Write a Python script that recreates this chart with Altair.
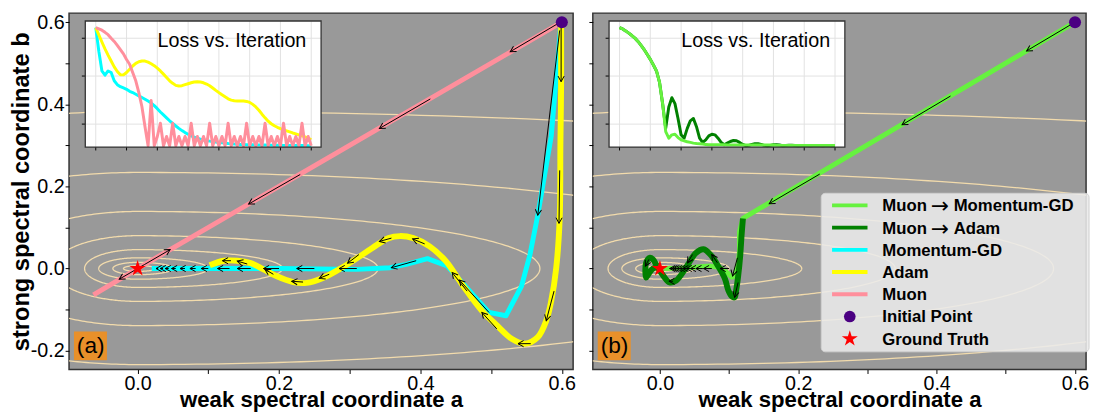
import math
import numpy as np
import pandas as pd
import altair as alt

FONT = "Liberation Sans"

# ---------------- figure geometry ----------------
X_DOMAIN = [-0.097, 0.616]
Y_DOMAIN = [-0.246, 0.622]
W_A, W_B, H = 512, 501, 362

# ---------------- colours ----------------
BG = "#999999"
C_CONTOUR = "#f2dbac"
C_LG = "#66f23f"
C_DG = "#008000"
C_CY = "#00ffff"
C_YE = "#ffff00"
C_PK = "#ff8f9c"
C_INIT = "#4b0082"
C_GT = "#ff0000"
C_TAG = "#e8902a"

# ---------------- contour levels (ellipse half-axes) ----
CONTOUR_A_RIGHT = [0.026, 0.05, 0.1, 0.205, 0.34, 0.569, 0.953, 1.78]
CONTOUR_A_LEFT = [0.02, 0.035, 0.055, 0.075, 0.12, 0.2, 0.35, 0.6]
CONTOUR_B = [0.007, 0.015, 0.026, 0.046, 0.08, 0.139, 0.234, 0.383]

# ---------------- panel (a) trajectories ----------------
MGD_A = [0.599, 0.593, 0.585, 0.566, 0.555, 0.543, 0.521, 0.497, 0.438, 0.41, 0.38, 0.357, 0.31, 0.2, 0.1, 0.02]
MGD_B = [0.602, 0.481, 0.322, 0.13, 0.034, -0.043, -0.115, -0.107, 0.006, 0.024, 0.01, 0.002, -0.002, 0.0, 0.0, 0.0]
ADAM_A = [0.599, 0.599, 0.598, 0.597, 0.592, 0.585, 0.578, 0.566, 0.548, 0.529, 0.506, 0.487, 0.459, 0.436, 0.413,
          0.39, 0.371, 0.355, 0.332, 0.304, 0.285, 0.262, 0.239, 0.22, 0.197, 0.178, 0.16, 0.141, 0.122, 0.102]
ADAM_B = [0.602, 0.45, 0.3, 0.122, 0.0, -0.079, -0.127, -0.167, -0.183, -0.171, -0.135, -0.103, -0.039, 0.018, 0.054,
          0.074, 0.079, 0.074, 0.05, 0.018, -0.002, -0.023, -0.035, -0.033, -0.019, -0.002, 0.013, 0.019, 0.019, 0.008]
MUON_A = [0.6, 0.0, -0.0625]
MUON_B = [0.6, 0.0, -0.064]

ARROWS_A = [
    (0.594, 0.596, 0.527, 0.528), (0.414, 0.413, 0.342, 0.341), (0.23, 0.229, 0.157, 0.157),
    (0.01, 0.01, 0.046, 0.046), (0.01, 0.01, -0.026, -0.026),
    (0.597, 0.58, 0.566, 0.13), (0.497, -0.107, 0.455, -0.028), (0.394, 0.019, 0.359, 0.002),
    (0.31, 0.0, 0.285, 0.0), (0.25, 0.0, 0.225, 0.0), (0.2, 0.0, 0.178, 0.0), (0.16, 0.0, 0.141, 0.0),
    (0.13, 0.0, 0.113, 0.0), (0.1, 0.0, 0.09, 0.0), (0.082, 0.0, 0.074, 0.0), (0.067, 0.0, 0.06, 0.0),
    (0.054, 0.0, 0.048, 0.0), (0.044, 0.0, 0.039, 0.0), (0.036, 0.0, 0.032, 0.0), (0.029, 0.0, 0.026, 0.0),
    (0.599, 0.596, 0.599, 0.455), (0.597, 0.239, 0.596, 0.11), (0.589, -0.055, 0.578, -0.127),
    (0.556, -0.183, 0.538, -0.183), (0.508, -0.147, 0.487, -0.107), (0.466, -0.055, 0.445, -0.01),
    (0.406, 0.06, 0.389, 0.072), (0.359, 0.074, 0.342, 0.066), (0.313, 0.034, 0.297, 0.013),
    (0.271, -0.014, 0.257, -0.024), (0.234, -0.033, 0.218, -0.031), (0.192, -0.014, 0.18, -0.002),
    (0.155, 0.011, 0.141, 0.018), (0.132, 0.019, 0.12, 0.019),
]

# ---------------- panel (b) trajectories ----------------
LG_A = [0.6, 0.12, 0.115, 0.115, 0.113, 0.108, 0.104, 0.097, 0.087, 0.073, 0.05, 0.028, 0.005]
LG_B = [0.6, 0.122, 0.09, 0.042, 0.01, -0.018, -0.021, -0.01, 0.002, 0.006, 0.003, 0.001, 0.0]
DG_A = [0.12, 0.118, 0.116, 0.113, 0.11, 0.108, 0.104, 0.099, 0.094, 0.084, 0.075, 0.063, 0.052, 0.042, 0.033,
        0.023, 0.014, 0.005, -0.003, -0.01, -0.015, -0.02, -0.021, -0.02, -0.016, -0.01, -0.004, 0.0]
DG_B = [0.122, 0.08, 0.03, -0.02, -0.055, -0.07, -0.068, -0.054, -0.025, 0.006, 0.03, 0.047, 0.038, 0.014, -0.01,
        -0.03, -0.034, -0.018, 0.002, 0.022, 0.026, 0.014, -0.01, -0.022, -0.012, 0.0, 0.003, 0.0]

ARROWS_B = [
    (0.595, 0.595, 0.53, 0.53), (0.42, 0.42, 0.35, 0.35), (0.231, 0.23, 0.158, 0.158),
    (0.112, 0.026, 0.105, -0.018), (0.113, -0.034, 0.108, -0.07),
    (0.083, 0.014, 0.075, 0.034), (0.047, 0.034, 0.04, 0.014), (0.019, -0.031, 0.013, -0.031),
    (-0.016, 0.022, -0.021, 0.006),
    (0.1, 0.0, 0.087, 0.0), (0.075, 0.0, 0.063, 0.0), (0.062, 0.0, 0.052, 0.0), (0.051, 0.0, 0.044, 0.0),
    (0.044, 0.0, 0.038, 0.0), (0.038, 0.0, 0.033, 0.0), (0.033, 0.0, 0.028, 0.0), (0.028, 0.0, 0.024, 0.0),
    (0.024, 0.0, 0.02, 0.0), (0.02, 0.0, 0.017, 0.0), (0.017, 0.0, 0.014, 0.0),
]

INIT_POINT = (0.6, 0.6)
GROUND_TRUTH = (0.0, 0.0)

# ---------------- inset loss curves ----------------
INSET_TITLE = "Loss vs. Iteration"
ITER = list(range(71))
LOSS_MUON = [1.0, 0.99, 0.978, 0.96, 0.94, 0.91, 0.883, 0.85, 0.814, 0.778, 0.73, 0.69, 0.62, 0.55, 0.45, 0.33, 0.16, 0.0,
             0.383, 0.0, 0.078, 0.19, 0.0, 0.078, 0.0, 0.19, 0.0, 0.078, 0.0, 0.078, 0.0, 0.19, 0.0, 0.078, 0.0, 0.078,
             0.0, 0.19, 0.0, 0.078, 0.0, 0.078, 0.0, 0.19, 0.0, 0.078, 0.0, 0.078, 0.0, 0.19, 0.0, 0.078, 0.0, 0.078,
             0.0, 0.19, 0.0, 0.078, 0.0, 0.078, 0.0, 0.19, 0.0, 0.078, 0.0, 0.078, 0.0, 0.19, 0.0, 0.078, 0.0]
LOSS_MGD = [1.0, 0.8, 0.633, 0.597, 0.633, 0.62, 0.55, 0.517, 0.5, 0.489, 0.478, 0.461, 0.45, 0.436, 0.422, 0.408,
            0.394, 0.378, 0.361, 0.339, 0.314, 0.286, 0.261, 0.236, 0.211, 0.189, 0.167, 0.147, 0.128, 0.111, 0.097,
            0.083, 0.072, 0.064, 0.056, 0.05, 0.044, 0.039, 0.036, 0.031, 0.028, 0.025, 0.022, 0.019, 0.017, 0.014,
            0.012, 0.011, 0.01, 0.009, 0.008, 0.008, 0.007, 0.007, 0.006, 0.006, 0.005, 0.005, 0.004, 0.004, 0.004,
            0.003, 0.003, 0.003, 0.003, 0.002, 0.002, 0.002, 0.002, 0.001, 0.0]
LOSS_ADAM = [1.0, 0.939, 0.878, 0.82, 0.767, 0.717, 0.667, 0.628, 0.6, 0.6, 0.62, 0.647, 0.675, 0.697, 0.711, 0.717,
             0.717, 0.708, 0.694, 0.678, 0.656, 0.633, 0.606, 0.578, 0.55, 0.528, 0.511, 0.506, 0.508, 0.517, 0.525,
             0.533, 0.539, 0.542, 0.539, 0.533, 0.522, 0.508, 0.489, 0.469, 0.45, 0.431, 0.414, 0.397, 0.386, 0.381,
             0.378, 0.378, 0.378, 0.375, 0.367, 0.35, 0.328, 0.3, 0.267, 0.236, 0.208, 0.186, 0.169, 0.156, 0.144,
             0.133, 0.125, 0.117, 0.108, 0.1, 0.092, 0.083, 0.075, 0.064, 0.05]
LOSS_LG = [1.0, 0.989, 0.972, 0.953, 0.933, 0.911, 0.883, 0.85, 0.814, 0.772, 0.731, 0.683, 0.633, 0.536, 0.356, 0.119,
           0.064, 0.092, 0.097, 0.069, 0.05, 0.042, 0.033, 0.028, 0.022, 0.019, 0.017, 0.014, 0.011,
           0.008, 0.008, 0.008, 0.008, 0.008, 0.008,
           0.006, 0.006, 0.006, 0.006, 0.006, 0.006, 0.006, 0.006, 0.006, 0.006, 0.006, 0.006, 0.006, 0.006, 0.006, 0.006,
           0.003, 0.003, 0.003, 0.003, 0.003, 0.003, 0.003, 0.003, 0.003, 0.003, 0.003, 0.003, 0.003, 0.003, 0.003,
           0.003, 0.003, 0.003, 0.003, 0.003]
LOSS_DG = [1.0, 0.989, 0.972, 0.953, 0.933, 0.911, 0.883, 0.85, 0.814, 0.772, 0.731, 0.683, 0.633, 0.536, 0.356,
           0.147, 0.328, 0.406, 0.356, 0.231, 0.092, 0.064, 0.147, 0.211, 0.231, 0.161, 0.064, 0.028, 0.05, 0.083,
           0.097, 0.092, 0.064, 0.028, 0.008, 0.022, 0.036, 0.044, 0.042, 0.028, 0.011, 0.0, 0.003, 0.011, 0.017,
           0.017, 0.011, 0.003, 0.0, 0.003, 0.008, 0.008, 0.006, 0.0,
           0.002, 0.004, 0.004, 0.002, 0.0, 0.002, 0.003, 0.002, 0.0, 0.001, 0.002, 0.001, 0.0, 0.001, 0.001, 0.0, 0.0]

# inset frame: pixel box inside each plot and its data limits
INSET_PX_X = [16.5, 256]
INSET_PX_Y = [136, 8]
INSET_X = [-3.4, 73.2]
INSET_Y = [-0.011, 1.056]
ITER_GRID = [0, 10, 20, 30, 40, 50, 60, 70]
LOSS_GRID = [0.183, 0.59, 0.91]

# ---------------- legend ----------------
LEGEND_LABELS = ["Muon \u2192 Momentum-GD", "Muon \u2192 Adam", "Momentum-GD", "Adam", "Muon",
                 "Initial Point", "Ground Truth"]
LEGEND_COLORS = [C_LG, C_DG, C_CY, C_YE, C_PK, C_INIT, C_GT]
LEG_BOX = (232, 504, 183, 344)     # pixel box inside panel (b)
LEG_ROW0, LEG_DY = 195.3, 22.57
LEG_SYM_X0, LEG_SYM_X1, LEG_TEXT_X = 243, 279, 294
LEG_ARROW_X, LEG_AFTER_X = 352.5, 366.5

STAR = ("M0,-1L0.223,-0.307L0.951,-0.309L0.361,0.117L0.588,0.809L0,0.38L-0.588,0.809"
        "L-0.361,0.117L-0.951,-0.309L-0.223,-0.307Z")
ARROW = "M-1,-0.55L0,0L-1,0.55"

TICK_VALUES_X = [round(0.1 * i, 1) for i in range(7)]
TICK_VALUES_Y = [round(-0.2 + 0.1 * i, 1) for i in range(9)]
LABEL_EXPR = ("abs(round(datum.value*10)) % 2 == 0 ? "
              "replace(format(datum.value, '.1f'), '\u2212', '-') : ''")

XS = alt.Scale(domain=X_DOMAIN, nice=False, zero=False)
YS = alt.Scale(domain=Y_DOMAIN, nice=False, zero=False)


def text_layer(s, x, y, **kw):
    df = pd.DataFrame({"t": [s]})
    return alt.Chart(df).mark_text(**kw).encode(x=alt.value(x), y=alt.value(y), text="t:N")


def legend_layers():
    out = []
    one = pd.DataFrame({"k": [0]})
    x0, x1, y0, y1 = LEG_BOX
    out.append(alt.Chart(one).mark_rect(fill="#ebebeb", fillOpacity=0.88, stroke="#cfcfcf", strokeWidth=1,
                                         cornerRadius=4).encode(
        x=alt.value(x0), x2=alt.value(x1), y=alt.value(y0), y2=alt.value(y1)))
    xc = (LEG_SYM_X0 + LEG_SYM_X1) / 2
    bold = dict(font=FONT, fontSize=17, fontWeight="bold", color="black", align="left", baseline="middle")
    for k, (lab, col) in enumerate(zip(LEGEND_LABELS, LEGEND_COLORS)):
        yk = LEG_ROW0 + k * LEG_DY
        if k < 5:
            out.append(alt.Chart(one).mark_rule(color=col, strokeWidth=4).encode(
                x=alt.value(LEG_SYM_X0), x2=alt.value(LEG_SYM_X1), y=alt.value(yk)))
        elif k == 5:
            out.append(alt.Chart(one).mark_point(shape="circle", filled=True, color=col, size=140,
                                                 opacity=1).encode(x=alt.value(xc), y=alt.value(yk)))
        else:
            out.append(alt.Chart(one).mark_point(shape=STAR, filled=True, color=col, size=290,
                                                 opacity=1).encode(x=alt.value(xc), y=alt.value(yk)))
        if "\u2192" in lab:
            left, right = [p.strip() for p in lab.split("\u2192")]
            out.append(text_layer(left, LEG_TEXT_X, yk + 1, **bold))
            out.append(text_layer("\u2192", LEG_ARROW_X, yk + 1, font="DejaVu Sans", fontSize=22,
                                  color="black", align="center", baseline="middle"))
            out.append(text_layer(right, LEG_AFTER_X, yk + 1, **bold))
        else:
            out.append(text_layer(lab, LEG_TEXT_X, yk + 1, **bold))
    return out


def build_panel(tag, width, paths, arrows, insets, show_y_labels, with_legend):
    x_axis = alt.Axis(values=TICK_VALUES_X, labelExpr=LABEL_EXPR, title="weak spectral coordinate a",
                      labelPadding=0, titlePadding=-4, titleFontSize=22.5)
    if show_y_labels:
        y_axis = alt.Axis(values=TICK_VALUES_Y, labelExpr=LABEL_EXPR, title="strong spectral coordinate b",
                          titleFontSize=24, titlePadding=-3)
    else:
        y_axis = alt.Axis(values=TICK_VALUES_Y, labels=False, title=None)

    def X(f):
        return alt.X(f, type="quantitative", scale=XS, axis=x_axis)

    def Y(f):
        return alt.Y(f, type="quantitative", scale=YS, axis=y_axis)

    # contour ellipses
    t = np.linspace(0, 2 * np.pi, 361)
    rows = []
    for k, (ar, al, bb) in enumerate(zip(CONTOUR_A_RIGHT, CONTOUR_A_LEFT, CONTOUR_B)):
        c, s = np.cos(t), np.sin(t)
        xs = np.where(c >= 0, ar, al) * c
        ys = bb * s
        for i in range(len(t)):
            rows.append({"level": k, "i": i, "a": float(xs[i]), "b": float(ys[i])})
    cdf = pd.DataFrame(rows)
    layers = [alt.Chart(cdf).mark_line(clip=True, color=C_CONTOUR, strokeWidth=1.3).encode(
        x=X("a"), y=Y("b"), detail="level:N", order="i:Q")]

    for a, b, color, sw, interp in paths:
        df = pd.DataFrame({"a": a, "b": b, "i": list(range(len(a)))})
        layers.append(alt.Chart(df).mark_line(color=color, strokeWidth=sw, interpolate=interp,
                                              strokeJoin="round", clip=True).encode(
            x=X("a"), y=Y("b"), order="i:Q"))

    sx = width / (X_DOMAIN[1] - X_DOMAIN[0])
    sy = H / (Y_DOMAIN[1] - Y_DOMAIN[0])
    adf = pd.DataFrame(arrows, columns=["x1", "y1", "x2", "y2"])
    adf["ang"] = [math.degrees(math.atan2(-(r.y2 - r.y1) * sy, (r.x2 - r.x1) * sx)) % 360
                  for r in adf.itertuples()]
    layers.append(alt.Chart(adf).mark_rule(color="black", strokeWidth=1).encode(
        x=X("x1"), y=Y("y1"), x2="x2", y2="y2"))
    layers.append(alt.Chart(adf).mark_point(shape=ARROW, filled=False, stroke="black", strokeWidth=1,
                                            size=130, opacity=1).encode(
        x=X("x2"), y=Y("y2"), angle=alt.Angle("ang:Q", scale=None)))

    pdf = pd.DataFrame({"a": [INIT_POINT[0]], "b": [INIT_POINT[1]]})
    layers.append(alt.Chart(pdf).mark_point(shape="circle", filled=True, color=C_INIT, size=150, opacity=1).encode(
        x=X("a"), y=Y("b")))
    gdf = pd.DataFrame({"a": [GROUND_TRUTH[0]], "b": [GROUND_TRUTH[1]]})
    layers.append(alt.Chart(gdf).mark_point(shape=STAR, filled=True, color=C_GT, size=300, opacity=1).encode(
        x=X("a"), y=Y("b")))

    # panel tag
    one = pd.DataFrame({"k": [0]})
    layers.append(alt.Chart(one).mark_rect(color=C_TAG).encode(
        x=alt.value(5), x2=alt.value(38.5), y=alt.value(H - 38.5), y2=alt.value(H - 9.5)))
    layers.append(text_layer(tag, 22, H - 24, font=FONT, fontSize=23, color="black"))

    if with_legend:
        layers.extend(legend_layers())

    main = alt.layer(*layers)

    # ---- inset ----
    IXS = alt.Scale(domain=INSET_X, range=INSET_PX_X, nice=False, zero=False)
    IYS = alt.Scale(domain=INSET_Y, range=INSET_PX_Y, nice=False, zero=False)

    def IX(f):
        return alt.X(f, type="quantitative", scale=IXS, axis=None)

    def IY(f):
        return alt.Y(f, type="quantitative", scale=IYS, axis=None)

    fdf = pd.DataFrame({"x0": [INSET_X[0]], "x1": [INSET_X[1]], "y0": [INSET_Y[0]], "y1": [INSET_Y[1]]})
    v_per_px = (INSET_Y[1] - INSET_Y[0]) / (INSET_PX_Y[0] - INSET_PX_Y[1])
    it_per_px = (INSET_X[1] - INSET_X[0]) / (INSET_PX_X[1] - INSET_PX_X[0])
    vg = pd.DataFrame({"it": ITER_GRID, "y0": INSET_Y[0], "y1": INSET_Y[1], "t0": INSET_Y[0] - 3.5 * v_per_px})
    hg = pd.DataFrame({"v": LOSS_GRID, "x0": INSET_X[0], "x1": INSET_X[1], "t0": INSET_X[0] - 3.5 * it_per_px})
    ilayers = [
        alt.Chart(fdf).mark_rect(fill="white").encode(x=IX("x0"), x2="x1", y=IY("y0"), y2="y1"),
        alt.Chart(vg).mark_rule(color="#e2e2e2", strokeWidth=1).encode(x=IX("it"), y=IY("y0"), y2="y1"),
        alt.Chart(hg).mark_rule(color="#e2e2e2", strokeWidth=1).encode(y=IY("v"), x=IX("x0"), x2="x1"),
        alt.Chart(vg).mark_rule(color="black", strokeWidth=1).encode(x=IX("it"), y=IY("y0"), y2="t0"),
        alt.Chart(hg).mark_rule(color="black", strokeWidth=1).encode(y=IY("v"), x=IX("x0"), x2="t0"),
    ]
    for vals, color in insets:
        df = pd.DataFrame({"it": ITER, "v": vals})
        ilayers.append(alt.Chart(df).mark_line(color=color, strokeWidth=3, strokeJoin="round").encode(
            x=IX("it"), y=IY("v")))
    ilayers.append(alt.Chart(fdf).mark_rect(fillOpacity=0, stroke="#333333", strokeWidth=1.3).encode(
        x=IX("x0"), x2="x1", y=IY("y0"), y2="y1"))
    ilayers.append(text_layer(INSET_TITLE, 241, 34.5, font=FONT, fontSize=20, color="black",
                              align="right", baseline="alphabetic"))
    inset = alt.layer(*ilayers)

    return alt.layer(main, inset).resolve_scale(x="independent", y="independent").properties(
        width=width, height=H)


panel_a = build_panel(
    "(a)", W_A,
    paths=[(MGD_A, MGD_B, C_CY, 5, "linear"), (ADAM_A, ADAM_B, C_YE, 6, "catmull-rom"),
           (MUON_A, MUON_B, C_PK, 5, "linear")],
    arrows=ARROWS_A,
    insets=[(LOSS_MGD, C_CY), (LOSS_ADAM, C_YE), (LOSS_MUON, C_PK)],
    show_y_labels=True, with_legend=False)

panel_b = build_panel(
    "(b)", W_B,
    paths=[(LG_A, LG_B, C_LG, 5, "linear"), (DG_A, DG_B, C_DG, 6, "catmull-rom")],
    arrows=ARROWS_B,
    insets=[(LOSS_DG, C_DG), (LOSS_LG, C_LG)],
    show_y_labels=False, with_legend=True)

chart = alt.hconcat(panel_a, panel_b, spacing=10).properties(padding=0).configure(
    font=FONT
).configure_view(
    fill=BG, stroke="#333333", strokeWidth=1.5
).configure_axis(
    labelFont=FONT, labelFontSize=20, labelColor="black", titleFont=FONT, titleFontSize=22,
    titleFontWeight="bold", titleColor="black", tickColor="black", tickSize=4, domain=False,
    grid=False, labelPadding=1, titlePadding=1
)

chart.save("out.html", embed_options={"renderer": "svg", "actions": False})
